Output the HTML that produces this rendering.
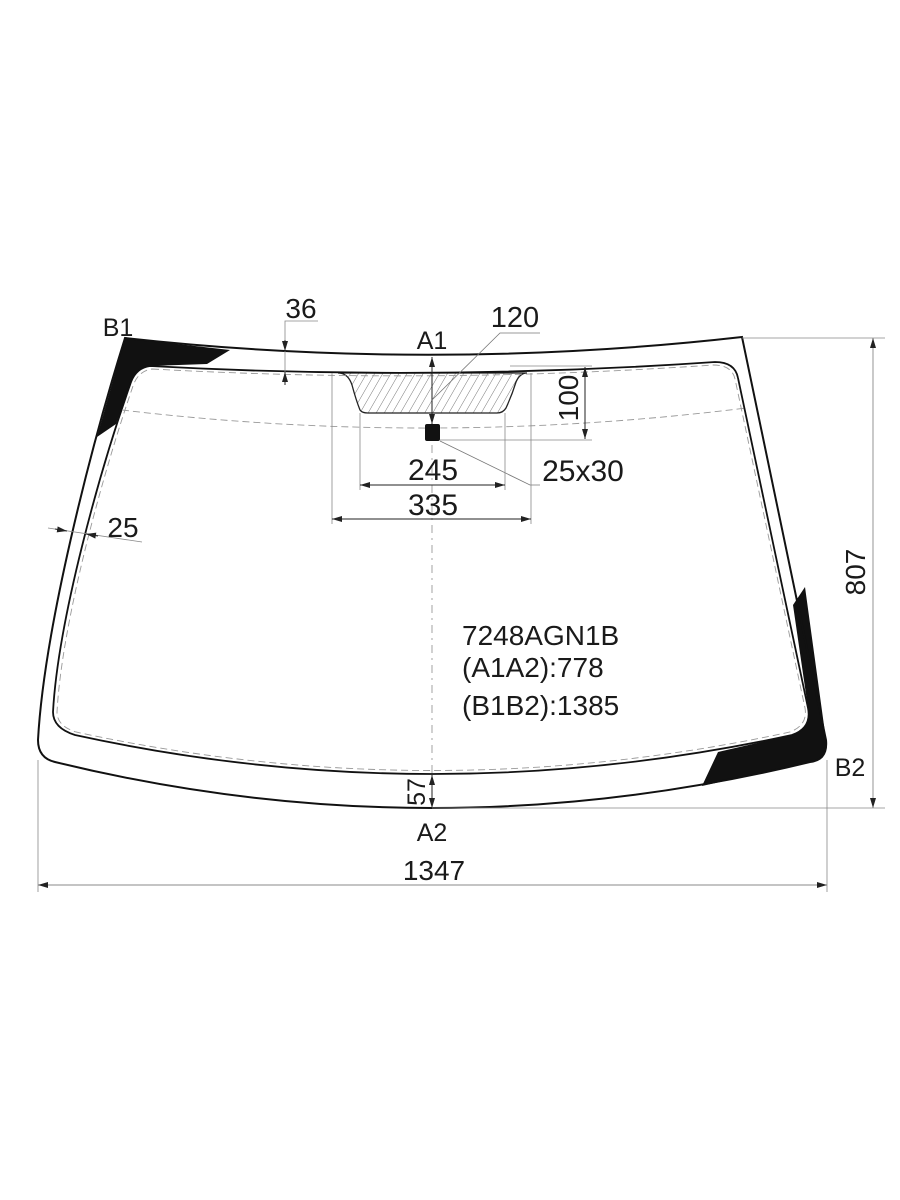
<!DOCTYPE html>
<html><head><meta charset="utf-8"><style>
html,body{margin:0;padding:0;background:#fff;}
svg{display:block;}
text{font-family:"Liberation Sans",Arial,sans-serif;fill:#1a1a1a;}
</style></head><body>
<svg width="900" height="1200" viewBox="0 0 900 1200" xmlns="http://www.w3.org/2000/svg">
<defs>
<pattern id="h" width="7" height="7" patternUnits="userSpaceOnUse" patternTransform="rotate(30)">
<line x1="0" y1="0" x2="0" y2="7" stroke="#555" stroke-width="0.8"/>
</pattern>
<marker id="a" markerWidth="10" markerHeight="6" refX="10" refY="3" orient="auto" markerUnits="userSpaceOnUse">
<path d="M0,0 L10,3 L0,6 Z" fill="#222"/></marker>
<marker id="b" markerWidth="10" markerHeight="6" refX="0" refY="3" orient="auto" markerUnits="userSpaceOnUse">
<path d="M10,0 L0,3 L10,6 Z" fill="#222"/></marker>
</defs>

<!-- black corner areas -->
<path d="M125,338 L230,350 L207,364 L150,366 Q135,368 130,385 L116,424 L97,437 Z" fill="#111"/>
<path d="M805,587 L826,740 Q828,760 810,762 L702,786 L718,752 L792,735 Q812,728 808,708 L793,605 Z" fill="#111"/>

<!-- hatched shade -->
<path d="M338,373 Q348,373 352,385 Q356,400 360,410 Q362,413 368,413 L497,413 Q503,413 506,408 Q512,395 516,382 Q520,373 527,373 Z" fill="url(#h)" stroke="#222" stroke-width="1.3"/>

<!-- outer glass -->
<path d="M125,338 Q432,372 742,337 L826,740 Q828,760 810,762 Q432,854 55,762 Q38,758 38,740 C44,630 90,450 125,338 Z" fill="none" stroke="#111" stroke-width="2"/>
<!-- inner -->
<path d="M150,366 Q432,381.5 715,362 Q735,362 738,378 L808,708 Q812,728 792,735 Q432,813 75,735 Q53,728 53,712 C58,620 100,470 130,385 Q135,368 150,366 Z" fill="none" stroke="#111" stroke-width="1.8"/>
<!-- dashed offset -->
<path d="M152,369 Q432,384.5 713,365 Q732,365 735,379 L805,708 Q808,725 790,732 Q432,809 76,732 Q57,726 57,712 C62,620 104,470 133,386 Q138,371 152,369 Z" fill="none" stroke="#999" stroke-width="0.9" stroke-dasharray="7,4"/>
<path d="M122,410 Q432,447 746,408" fill="none" stroke="#999" stroke-width="0.9" stroke-dasharray="7,4"/>
<line x1="432" y1="445" x2="432" y2="790" stroke="#999" stroke-width="0.9" stroke-dasharray="8,5,2,5"/>

<!-- sensor square -->
<rect x="425" y="424" width="15" height="17" rx="2" fill="#111"/>

<!-- A1 dimension -->
<line x1="432" y1="357" x2="432" y2="424" stroke="#222" stroke-width="1" marker-start="url(#b)" marker-end="url(#a)"/>
<text x="432" y="349" font-size="25" text-anchor="middle">A1</text>
<!-- 120 leader -->
<polyline points="432,400 500,333 540,333" fill="none" stroke="#777" stroke-width="0.8"/>
<text x="515" y="327" font-size="29" text-anchor="middle">120</text>
<!-- 100 -->
<line x1="510" y1="366" x2="592" y2="366" stroke="#888" stroke-width="0.8"/>
<line x1="440" y1="440" x2="592" y2="440" stroke="#888" stroke-width="0.8"/>
<line x1="585" y1="367" x2="585" y2="439" stroke="#222" stroke-width="1" marker-start="url(#b)" marker-end="url(#a)"/>
<text x="0" y="0" font-size="28" text-anchor="middle" transform="translate(578,398) rotate(-90)">100</text>
<!-- 25x30 leader -->
<polyline points="440,441 530,485 540,485" fill="none" stroke="#777" stroke-width="0.8"/>
<text x="583" y="481" font-size="30" text-anchor="middle">25x30</text>
<!-- 245 -->
<line x1="360" y1="413" x2="360" y2="490" stroke="#888" stroke-width="0.8"/>
<line x1="505" y1="413" x2="505" y2="490" stroke="#888" stroke-width="0.8"/>
<line x1="360" y1="485" x2="505" y2="485" stroke="#222" stroke-width="1" marker-start="url(#b)" marker-end="url(#a)"/>
<text x="433" y="480" font-size="30" text-anchor="middle">245</text>
<!-- 335 -->
<line x1="332" y1="373" x2="332" y2="524" stroke="#888" stroke-width="0.8"/>
<line x1="531" y1="373" x2="531" y2="524" stroke="#888" stroke-width="0.8"/>
<line x1="332" y1="519" x2="531" y2="519" stroke="#222" stroke-width="1" marker-start="url(#b)" marker-end="url(#a)"/>
<text x="433" y="515" font-size="30" text-anchor="middle">335</text>

<!-- 36 -->
<polyline points="285,385 285,321 318,321" fill="none" stroke="#888" stroke-width="0.8"/>
<line x1="285" y1="340" x2="285" y2="351" stroke="#222" stroke-width="1" marker-end="url(#a)"/>
<line x1="285" y1="385" x2="285" y2="372" stroke="#222" stroke-width="1" marker-end="url(#a)"/>
<text x="301" y="318" font-size="28" text-anchor="middle">36</text>
<text x="118" y="336" font-size="25" text-anchor="middle">B1</text>

<!-- 25 -->
<line x1="48" y1="528" x2="142" y2="542" stroke="#888" stroke-width="0.8"/>
<line x1="55" y1="529" x2="67" y2="531" stroke="#222" stroke-width="1" marker-end="url(#a)"/>
<line x1="98" y1="536" x2="86" y2="534" stroke="#222" stroke-width="1" marker-end="url(#a)"/>
<text x="123" y="537" font-size="28" text-anchor="middle">25</text>

<!-- 57 -->
<line x1="432" y1="775" x2="432" y2="808" stroke="#222" stroke-width="1" marker-start="url(#b)" marker-end="url(#a)"/>
<text x="0" y="0" font-size="25" text-anchor="middle" transform="translate(425,792) rotate(-90)">57</text>
<text x="432" y="841" font-size="25" text-anchor="middle">A2</text>

<!-- 1347 -->
<line x1="38" y1="760" x2="38" y2="892" stroke="#888" stroke-width="0.8"/>
<line x1="827" y1="760" x2="827" y2="892" stroke="#888" stroke-width="0.8"/>
<line x1="38" y1="885" x2="827" y2="885" stroke="#888" stroke-width="0.9" marker-start="url(#b)" marker-end="url(#a)"/>
<text x="434" y="880" font-size="28" text-anchor="middle">1347</text>

<!-- 807 -->
<line x1="742" y1="338" x2="885" y2="338" stroke="#888" stroke-width="0.8"/>
<line x1="432" y1="808" x2="885" y2="808" stroke="#888" stroke-width="0.8"/>
<line x1="873" y1="338" x2="873" y2="808" stroke="#888" stroke-width="0.9" marker-start="url(#b)" marker-end="url(#a)"/>
<text x="0" y="0" font-size="28" text-anchor="middle" transform="translate(865,572) rotate(-90)">807</text>
<text x="850" y="776" font-size="25" text-anchor="middle">B2</text>

<!-- info text -->
<text x="462" y="645" font-size="28">7248AGN1B</text>
<text x="462" y="677" font-size="28">(A1A2):778</text>
<text x="462" y="715" font-size="28">(B1B2):1385</text>
</svg>
</body></html>
